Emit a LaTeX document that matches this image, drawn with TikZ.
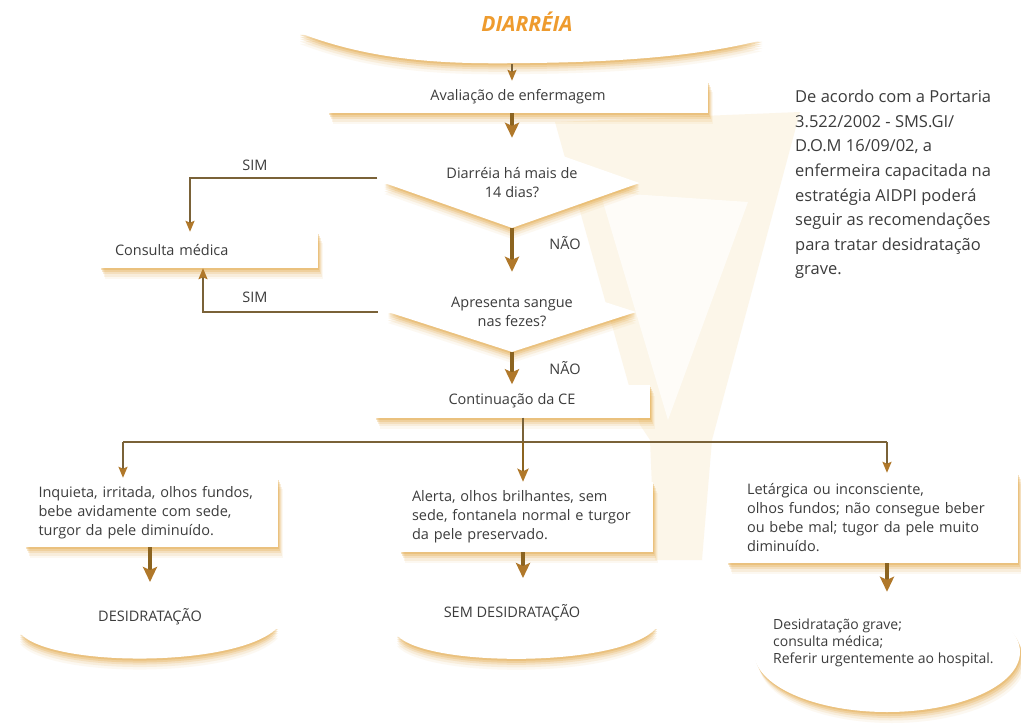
\documentclass[tikz,border=0pt]{standalone}
\usepackage{fontspec}
\setmainfont{Open Sans}
\usetikzlibrary{shapes.geometric,arrows.meta}

\definecolor{gold}{HTML}{E2A43E}
\definecolor{goldlt}{HTML}{F6E2B8}
\definecolor{linebrown}{HTML}{7A6238}
\definecolor{shaft}{HTML}{8C6420}
\definecolor{tipgold}{HTML}{B0782A}
\definecolor{ink}{HTML}{3C3C3C}
\definecolor{titleorange}{HTML}{EE9B2E}

\tikzset{
  shadowbox/.style={
    preaction={fill=gold, fill opacity=0.07, transform canvas={shift={(5pt,-11pt)}}},
    preaction={fill=gold, fill opacity=0.12, transform canvas={shift={(4pt,-8.5pt)}}},
    preaction={fill=gold, fill opacity=0.18, transform canvas={shift={(3pt,-6pt)}}},
    preaction={fill=gold, fill opacity=0.25, transform canvas={shift={(2pt,-4pt)}}},
    preaction={fill=gold, fill opacity=0.32, transform canvas={shift={(1pt,-2pt)}}},
  },
  shadowdown/.style={
    preaction={fill=gold, fill opacity=0.07, transform canvas={shift={(0pt,-11pt)}}},
    preaction={fill=gold, fill opacity=0.12, transform canvas={shift={(0pt,-8.5pt)}}},
    preaction={fill=gold, fill opacity=0.18, transform canvas={shift={(0pt,-6pt)}}},
    preaction={fill=gold, fill opacity=0.25, transform canvas={shift={(0pt,-4pt)}}},
    preaction={fill=gold, fill opacity=0.32, transform canvas={shift={(0pt,-2pt)}}},
  },
  txt/.style={text=ink, font=\fontsize{14.5}{19}\selectfont},
  stepbox/.style={txt, shadowbox, fill=white, inner sep=0pt},
  decision/.style={txt, shadowdown, fill=white, diamond, shape aspect=2.8, inner sep=0pt, align=center},
  bowl/.style={fill=white, shadowdown},
  lbl/.style={txt, inner sep=0pt},
  conn/.style={draw=linebrown, line width=2pt},
  thinarrow/.style={conn, -{Stealth[length=11pt,width=9pt,inset=2pt,color=tipgold]}},
  midarrow/.style={draw=shaft, line width=2.6pt, -{Stealth[length=13pt,width=11pt,inset=2.5pt,color=tipgold]}},
  bigarrow/.style={draw=shaft, line width=3.5pt, -{Stealth[length=15pt,width=14pt,inset=3pt,color=tipgold]}},
}

\begin{document}
\begin{tikzpicture}[x=1pt,y=-1pt]
\useasboundingbox (0,0) rectangle (1021,728);
\fill[white] (0,0) rectangle (1021,728);

% faint ribbon behind the central column
\fill[goldlt, opacity=0.3] (555,122) -- (800,112) -- (712,440) -- (702,560) -- (655,560) -- (650,440) -- (640,425) -- cycle;
\fill[white, opacity=0.7] (600,192) -- (748,202) -- (668,420) -- cycle;

% header bowl
\path[bowl] (300,33) .. controls (380,64) and (460,64) .. (530,63)
  .. controls (620,62) and (700,56) .. (762,40)
  .. controls (620,30) and (420,28) .. (300,33) -- cycle;
\node[font=\fontsize{21}{21}\bfseries\itshape\selectfont, text=titleorange] (title) at (527,22) {DIARRÉIA};

% process boxes and decisions
\node[stepbox, minimum width=380pt, minimum height=32pt] (aval) at (518,97) {Avaliação de enfermagem};
\node[decision, minimum width=255pt, minimum height=90pt] (d1) at (512,183) {Diarréia há mais de\\14 dias?};
\node[stepbox, minimum width=218pt, minimum height=36pt, text width=188pt, align=left] (cons) at (209,250) {Consulta médica};
\node[decision, minimum width=248pt, minimum height=80pt] (d2) at (512,312) {Apresenta sangue\\nas fezes?};
\node[stepbox, minimum width=275pt, minimum height=33pt] (cont) at (512,401) {Continuação da CE};

\node[stepbox, minimum width=253pt, minimum height=69pt, text width=226pt, align=left] (lbox) at (151.5,512.5)
  {Inquieta, irritada, olhos fundos,\\bebe avidamente com sede,\\turgor da pele diminuído.};
\node[stepbox, minimum width=253pt, minimum height=70pt, text width=229pt, align=left] (cbox) at (526.5,517)
  {Alerta, olhos brilhantes, sem\\sede, fontanela normal e turgor\\da pele preservado.};
\node[stepbox, minimum width=291pt, minimum height=90pt, text width=251pt, align=left] (rbox) at (872.5,518)
  {Letárgica ou inconsciente,\\olhos fundos; não consegue beber\\ou bebe mal; tugor da pele muito\\diminuído.};

% outcome bowls
\path[bowl] (20,633) .. controls (50,668) and (240,668) .. (278,627) -- cycle;
\node[lbl] (desid) at (150,617) {DESIDRATAÇÃO};
\path[bowl] (397,635) .. controls (425,668) and (625,668) .. (657,627) -- cycle;
\node[lbl] (semdesid) at (512,613) {SEM DESIDRATAÇÃO};
\node[ellipse, fill=white, shadowbox, minimum width=266pt, minimum height=120pt] (oval) at (887,652) {};
\node[lbl, align=left, anchor=west, font=\fontsize{14}{17}\selectfont] (gravetxt) at (773,643)
  {Desidratação grave;\\consulta médica;\\Referir urgentemente ao hospital.};

% side note
\node[lbl, align=left, anchor=north west, font=\fontsize{16.5}{24.6}\selectfont] (note) at (795,90)
  {De acordo com a Portaria\\3.522/2002 - SMS.GI/\\D.O.M 16/09/02, a\\enfermeira capacitada na\\estratégia AIDPI poderá\\seguir as recomendações\\para tratar desidratação\\grave.};

% branch labels
\node[lbl] (sim1) at (255,165) {SIM};
\node[lbl] (sim2) at (255,297) {SIM};
\node[lbl] (nao1) at (565,243) {NÃO};
\node[lbl] (nao2) at (565,368) {NÃO};

% connectors
\coordinate (tb) at (512,64);
\draw[thinarrow] (tb) -- (tb |- aval.north);
\draw[bigarrow] (aval.south -| d1) -- (d1.north);
\draw[thinarrow] ([xshift=-7pt,yshift=5pt]d1.west) -| ([xshift=-19pt]cons.north);
\draw[thinarrow] ([xshift=-10pt]d2.west) -| ([xshift=-6pt]cons.south);
\draw[bigarrow] (d1.south) -- (d2.north);
\draw[bigarrow] (d2.south) -- (d2.south |- cont.north);

\coordinate (bl) at (123,442);
\coordinate (bc) at (523,442);
\coordinate (bR) at (887,442);
\draw[conn] (cont.south -| bc) -- (bc);
\draw[conn] (bl) -- (bR);
\draw[thinarrow] (bl) -- (bl |- lbox.north);
\draw[midarrow] (bc) -- (bc |- cbox.north);
\draw[thinarrow] (bR) -- (bR |- rbox.north);

\coordinate (desidin) at (150,582);
\coordinate (semin) at (523,578);
\draw[bigarrow] (lbox.south -| desidin) -- (desidin);
\draw[bigarrow] (cbox.south -| semin) -- (semin);
\draw[bigarrow] (rbox.south -| oval.north) -- (oval.north);
\end{tikzpicture}
\end{document}
